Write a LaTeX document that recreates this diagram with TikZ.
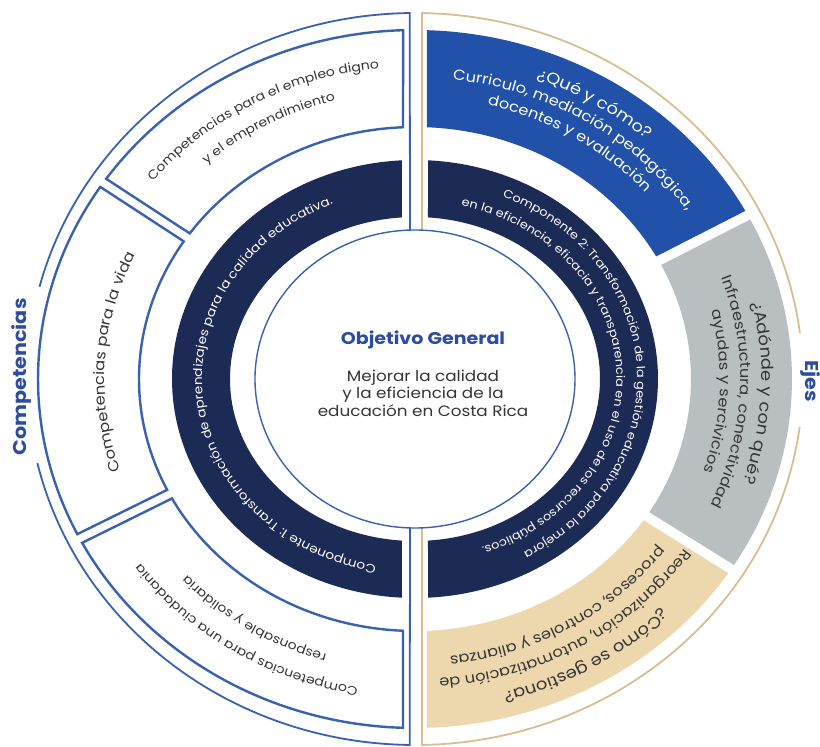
\documentclass[tikz,border=0pt]{standalone}
\usepackage{fontspec}
\setmainfont{Poppins}[FakeStretch=1.12]
\usetikzlibrary{decorations.text}

\definecolor{navy}{HTML}{1C2B56}
\definecolor{ejeazul}{HTML}{2151A8}
\definecolor{ejegris}{HTML}{B9BEC1}
\definecolor{ejeocre}{HTML}{EDD8AE}
\definecolor{lineazul}{HTML}{3A61AF}
\definecolor{lineocre}{HTML}{D9BD90}
\definecolor{tituloazul}{HTML}{2D4C9F}
\definecolor{texto}{HTML}{353535}

\newcommand{\fcaja}{\fontsize{12.5}{14}\selectfont}
\newcommand{\fvida}{\fontsize{14.5}{16}\selectfont}
\newcommand{\feje}{\fontsize{14.5}{17}\selectfont}
\newcommand{\fpregunta}{\fontsize{16}{19}\selectfont}
\newcommand{\fanillo}{\fontsize{11.5}{13}\selectfont}
\newcommand{\fanilloizq}{\fontsize{12.2}{14}\selectfont}

% ring segment: style, outer from/to, inner from/to, outer radii, inner radii
\newcommand{\annseg}[9]{\path[#1] (#2:#6 and #7) arc[start angle=#2,end angle=#3,x radius=#6,y radius=#7]
  -- (#4:#8 and #9) arc[start angle=#4,end angle=#5,x radius=#8,y radius=#9] -- cycle;}
% curved text: font, colour, from, to, radii, text
\newcommand{\arctext}[7]{\path[decorate,decoration={text along path,text align=center,text color=#2,text={|#1|#7}}]
  (#3:#5 and #6) arc[start angle=#3,end angle=#4,x radius=#5,y radius=#6];}

\begin{document}
\begin{tikzpicture}[x=1pt,y=1pt,
    caja/.style={fill=white,draw=lineazul,line width=2.4pt},
    marco/.style={line width=1.8pt},
    etiqueta/.style={font=\bfseries\fontsize{18.5}{21}\selectfont,text=tituloazul}]
  \useasboundingbox (-415,-368) rectangle (405,379);
  \fill[white] (-415,-368) rectangle (405,379);

  % outer frame
  \draw[marco,lineazul] (-5,149) -- (90.78:388 and 366) arc[start angle=90.78,end angle=165.4,x radius=388,y radius=366];
  \draw[marco,lineazul] (193.3:388 and 366) arc[start angle=193.3,end angle=269.22,x radius=388,y radius=366] -- (-5,-149);
  \draw[marco,lineocre] (7,149) -- (88.97:388 and 366) arc[start angle=88.97,end angle=7.2,x radius=388,y radius=366];
  \draw[marco,lineocre] (-7.5:388 and 366) arc[start angle=-7.5,end angle=-88.97,x radius=388,y radius=366] -- (7,-149);

  % competencias
  \annseg{caja}{91.8}{145.0}{144.7}{92.5}{377}{349}{276}{252}
  \annseg{caja}{146.6}{206.4}{206.1}{146.9}{377}{349}{276}{252}
  \annseg{caja}{208.0}{268.18}{267.51}{208.3}{377}{349}{276}{252}

  % ejes
  \annseg{fill=ejeazul}{88.18}{28.8}{29.1}{87.51}{377}{349}{276}{252}
  \annseg{fill=ejegris}{27.2}{-32.2}{-31.9}{26.9}{377}{349}{276}{252}
  \annseg{fill=ejeocre}{-33.8}{-88.18}{-87.51}{-34.1}{377}{349}{276}{252}

  % componentes
  \annseg{fill=navy}{93.07}{266.93}{265.97}{94.03}{243}{219}{185}{162}
  \annseg{fill=navy}{86.93}{-86.93}{-85.97}{85.97}{243}{219}{185}{162}

  \draw[lineazul,line width=1.4pt] (0,0) ellipse[x radius=160,y radius=149];

  \node[font=\bfseries\fontsize{17}{20}\selectfont,text=tituloazul] (titulo) at (8,39) {Objetivo General};
  \node[font=\fontsize{15}{17.5}\selectfont,text=texto,align=center] (objetivo) at (8,-14)
    {Mejorar la calidad\\y la eficiencia de la\\educación en Costa Rica};
  \node[etiqueta,rotate=90] (competencias) at (-393,2) {Competencias};
  \node[etiqueta,rotate=-90] (ejes) at (395,-2) {Ejes};

  \arctext{\fcaja}{texto}{145}{92}{338.6}{312.1}{Competencias para el empleo digno}
  \arctext{\fcaja}{texto}{145}{92}{313.4}{287.9}{y el emprendimiento}
  \arctext{\fvida}{texto}{206}{147}{310.4}{285}{Competencias para la vida}
  \arctext{\fcaja}{texto}{268}{208}{339.6}{313.1}{Competencias para una ciudadania}
  \arctext{\fcaja}{texto}{268}{208}{312.4}{286.9}{responsable y solidaria}

  \arctext{\fpregunta}{white}{88}{29}{347.7}{320.8}{¿Qué y cómo?}
  \arctext{\feje}{white}{88}{29}{327.5}{301.5}{Curriculo, mediación pedagógica,}
  \arctext{\feje}{white}{88}{29}{307.3}{282}{docentes y evaluación}
  \arctext{\fpregunta}{texto}{27}{-32}{346.7}{319.9}{¿Adónde y con qué?}
  \arctext{\feje}{texto}{27}{-32}{325.5}{299.6}{Infraestructura, conectividad}
  \arctext{\feje}{texto}{27}{-32}{305.3}{280.1}{ayudas y sercivicios}
  \arctext{\fpregunta}{texto}{-34}{-86}{350.8}{323.8}{¿Cómo se gestiona?}
  \arctext{\feje}{texto}{-34}{-86}{326.5}{300.5}{Reorganización, automatización de}
  \arctext{\feje}{texto}{-34}{-86}{304.3}{279.2}{procesos, controles y alianzas}

  \arctext{\fanilloizq}{white}{272}{100}{213}{189.5}{Componente 1: Transformación de aprendizajes para la calidad educativa.}
  \arctext{\fanillo}{white}{88}{-82}{222.1}{198.5}{Componente 2: Transformación de la gestión educativa para la mejora}
  \arctext{\fanillo}{white}{88}{-82}{201.4}{178.1}{en la eficiencia, eficacia y transparencia en el uso de los recursos públicos.}
\end{tikzpicture}
\end{document}
